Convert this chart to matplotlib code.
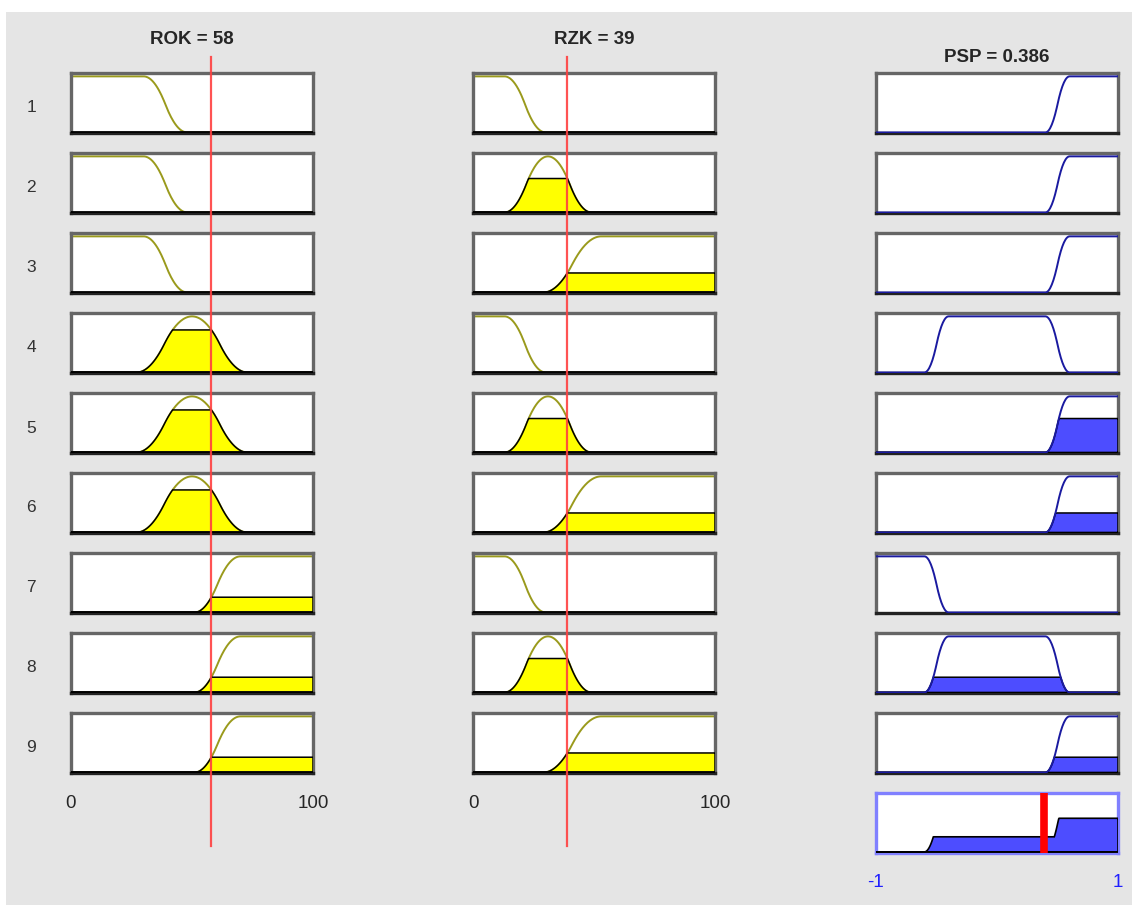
import numpy as np
import matplotlib.pyplot as plt
from matplotlib.patches import Rectangle
from matplotlib.lines import Line2D

plt.rcParams['font.family'] = ['Liberation Sans', 'DejaVu Sans']

# inputs / output of the fuzzy system
rok_value = 58
rzk_value = 39
psp_value = 0.386

rok_range = [0, 100]
rzk_range = [0, 100]
psp_range = [-1, 1]

# membership functions: (type, params)
rok_mfs = [('zmf', [30, 48]), ('pimf', [27, 50, 50, 73]), ('smf', [51, 70])]
rzk_mfs = [('zmf', [13, 30]), ('pimf', [13, 31, 31, 49]), ('smf', [29, 53])]
psp_mfs = [('zmf', [-0.6, -0.4]), ('pimf', [-0.6, -0.4, 0.4, 0.6]), ('smf', [0.4, 0.6])]

# rule base (index into the mf lists)
rule_rok = [0, 0, 0, 1, 1, 1, 2, 2, 2]
rule_rzk = [0, 1, 2, 0, 1, 2, 0, 1, 2]
rule_psp = [2, 2, 2, 1, 2, 2, 0, 1, 2]


def smf(x, p):
    a, b = p
    m = (a + b) / 2
    y = np.where(x <= a, 0.0,
        np.where(x <= m, 2 * ((x - a) / (b - a)) ** 2,
        np.where(x <= b, 1 - 2 * ((x - b) / (b - a)) ** 2, 1.0)))
    return y


def zmf(x, p):
    return 1 - smf(x, p)


def pimf(x, p):
    a, b, c, d = p
    return np.minimum(smf(x, [a, b]), zmf(x, [c, d]))


def evalmf(x, mf):
    kind, p = mf
    x = np.asarray(x, dtype=float)
    return {'smf': smf, 'zmf': zmf, 'pimf': pimf}[kind](x, p)


W, H = 1132, 905
fig = plt.figure(figsize=(W / 100, H / 100), dpi=100)
fig.patch.set_facecolor('white')
fig.patches.append(Rectangle((6 / W, 0), 1 - 6 / W, 1 - 12 / H, transform=fig.transFigure,
                             facecolor='#e5e5e5', edgecolor='none', zorder=-10))

col_left = [71, 473, 876]
ax_w, ax_h = 242, 60


def make_ax(px, py_top, h=ax_h, frame='#666666'):
    ax = fig.add_axes([px / W, 1 - (py_top + h) / H, ax_w / W, h / H])
    ax.set_facecolor('white')
    ax.set_xticks([])
    ax.set_yticks([])
    for s in ax.spines.values():
        s.set_color(frame)
        s.set_linewidth(2.4)
    return ax


in_specs = [(rok_mfs, rok_range, rok_value, rule_rok),
            (rzk_mfs, rzk_range, rzk_value, rule_rzk)]

firing = []
for r in range(9):
    degs = []
    top = 73 + 80 * r
    for c, (mfs, rng, val, rule) in enumerate(in_specs):
        ax = make_ax(col_left[c], top)
        ax.spines['bottom'].set_color('#222222')
        x = np.linspace(rng[0], rng[1], 301)
        mf = mfs[rule[r]]
        y = evalmf(x, mf)
        mu = float(evalmf(val, mf))
        degs.append(mu)
        ax.plot(x, y, color='#9a9a1c', lw=1.4, zorder=2)
        if mu > 0:
            yf = np.minimum(y, mu)
            ax.fill(np.r_[x, x[::-1]], np.r_[yf, np.zeros_like(x)],
                    facecolor='#ffff00', edgecolor='black', lw=1.1, zorder=3)
        ax.plot(x, np.zeros_like(x), color='black', lw=1.3, zorder=4)
        ax.set_xlim(rng)
        ax.set_ylim(-0.01, 1.06)
    firing.append(min(degs))

    # output consequent
    ax = make_ax(col_left[2], top)
    ax.spines['bottom'].set_color('#222222')
    x = np.linspace(psp_range[0], psp_range[1], 301)
    y = evalmf(x, psp_mfs[rule_psp[r]])
    ax.plot(x, y, color='#1a1aa0', lw=1.4, zorder=4)
    if firing[r] > 0:
        yf = np.minimum(y, firing[r])
        ax.fill(np.r_[x, x[::-1]], np.r_[yf, np.zeros_like(x)],
                facecolor='#4d4dff', edgecolor='black', lw=1.1, zorder=3)
    ax.set_xlim(psp_range)
    ax.set_ylim(-0.01, 1.06)

    fig.text(31 / W, 1 - (top + 35) / H, str(r + 1), ha='center', va='center',
             fontsize=12.5, color='#333333')

# aggregated output
ax = make_ax(col_left[2], 793, h=60, frame='#8080ff')
x = np.linspace(psp_range[0], psp_range[1], 601)
agg = np.zeros_like(x)
for r in range(9):
    agg = np.maximum(agg, np.minimum(evalmf(x, psp_mfs[rule_psp[r]]), firing[r]))
ax.fill(np.r_[x, x[::-1]], np.r_[agg, np.zeros_like(x)],
        facecolor='#4d4dff', edgecolor='black', lw=1.2, zorder=3)
ax.plot(x, np.zeros_like(x), color='black', lw=1.2, zorder=4)
ax.axvline(psp_value, color='red', lw=5.5, zorder=5)
ax.set_xlim(psp_range)
ax.set_ylim(-0.02, 1.06)

# input value lines running through each column
for c, (mfs, rng, val, rule) in enumerate(in_specs):
    x_fig = (col_left[c] + (val - rng[0]) / (rng[1] - rng[0]) * ax_w) / W
    fig.lines.append(Line2D([x_fig, x_fig], [1 - 57 / H, 1 - 846 / H],
                            transform=fig.transFigure, color='#ff4040', lw=1.6, alpha=0.9, zorder=10))

titles = ['ROK = %g' % rok_value, 'RZK = %g' % rzk_value, 'PSP = %.3f' % psp_value]
title_y = [40, 40, 57]
for c in range(3):
    fig.text((col_left[c] + ax_w / 2) / W, 1 - title_y[c] / H, titles[c], ha='center', va='center',
             fontsize=13.5, fontweight='bold', color='#262626')

# range labels under the columns
for c, rng in enumerate([rok_range, rzk_range]):
    fig.text(col_left[c] / W, 1 - 803 / H, '%g' % rng[0], ha='center', va='center', fontsize=13.5, color='#262626')
    fig.text((col_left[c] + ax_w) / W, 1 - 803 / H, '%g' % rng[1], ha='center', va='center', fontsize=13.5, color='#262626')
fig.text(col_left[2] / W, 1 - 882 / H, '%g' % psp_range[0], ha='center', va='center', fontsize=13.5, color='#2020ff')
fig.text((col_left[2] + ax_w) / W, 1 - 882 / H, '%g' % psp_range[1], ha='center', va='center', fontsize=13.5, color='#2020ff')

fig.savefig('out.png', dpi=100)
